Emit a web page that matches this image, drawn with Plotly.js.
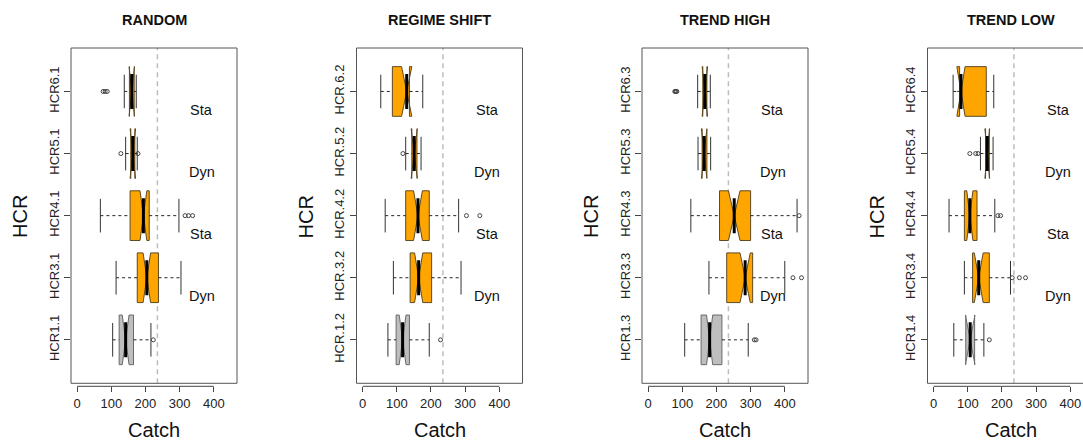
<!DOCTYPE html>
<html><head><meta charset="utf-8">
<script src="https://cdn.plot.ly/plotly-3.0.1.min.js"></script>
<style>html,body{margin:0;padding:0;overflow:hidden;background:#fff}</style>
</head><body><div id="chart"></div>
<script>
// ---- data ----
const positions = [1, 2, 3, 4, 5];
const panelTitles = ['RANDOM', 'REGIME SHIFT', 'TREND HIGH', 'TREND LOW'];
const xTicks = [0, 100, 200, 300, 400];
const xLimits = [-18, 468];
const refCatch = 235;
const noteText = ['Sta', 'Dyn', 'Sta', 'Dyn'];
const noteY = [4.7, 3.7, 2.7, 1.7];
const noteX = 365;

// RANDOM
const labelsRandom = ['HCR1.1', 'HCR3.1', 'HCR4.1', 'HCR5.1', 'HCR6.1'];
const lowRandom = [104, 114, 68, 142, 138];
const q1Random = [123, 176, 155, 157, 153];
const medRandom = [142, 204, 194, 163, 160];
const q3Random = [165, 238, 211, 169, 167];
const highRandom = [216, 304, 298, 176, 173];
const notchRandom = [10, 11, 10, 8, 8];
const outXRandom = [223, 316, 326, 338, 128, 178, 76, 82, 88];
const outYRandom = [1, 3, 3, 3, 4, 4, 5, 5, 5];

// REGIME SHIFT
const labelsRegime = ['HCR.1.2', 'HCR.3.2', 'HCR.4.2', 'HCR.5.2', 'HCR.6.2'];
const lowRegime = [74, 90, 66, 126, 53];
const q1Regime = [98, 139, 126, 144, 87];
const medRegime = [117, 164, 162, 151, 129];
const q3Regime = [137, 202, 195, 159, 137];
const highRegime = [195, 288, 281, 171, 176];
const notchRegime = [10, 12, 13, 9, 15];
const outXRegime = [228, 304, 343, 118];
const outYRegime = [1, 3, 3, 4];

// TREND HIGH
const labelsHigh = ['HCR1.3', 'HCR3.3', 'HCR4.3', 'HCR5.3', 'HCR6.3'];
const lowHigh = [107, 178, 125, 146, 145];
const q1High = [155, 230, 209, 158, 160];
const medHigh = [180, 284, 252, 164, 166];
const q3High = [216, 306, 300, 172, 172];
const highHigh = [293, 400, 436, 183, 182];
const notchHigh = [9, 15, 17, 8, 8];
const outXHigh = [311, 316, 424, 449, 442, 78, 80, 82, 84];
const outYHigh = [1, 1, 2, 2, 3, 5, 5, 5, 5];

// TREND LOW
const labelsLow = ['HCR1.4', 'HCR3.4', 'HCR4.4', 'HCR5.4', 'HCR6.4'];
const lowLow = [59, 90, 45, 137, 57];
const q1Low = [94, 114, 90, 152, 76];
const medLow = [107, 132, 106, 157, 80];
const q3Low = [120, 163, 127, 163, 154];
const highLow = [147, 225, 179, 174, 176];
const notchLow = [14, 13, 9, 7, 12];
const outXLow = [163, 230, 251, 269, 188, 196, 106, 123, 130];
const outYLow = [1, 2, 2, 2, 3, 3, 4, 4, 4];

const panels = [
  {labels: labelsRandom, low: lowRandom, q1: q1Random, med: medRandom, q3: q3Random, high: highRandom, notch: notchRandom, ox: outXRandom, oy: outYRandom},
  {labels: labelsRegime, low: lowRegime, q1: q1Regime, med: medRegime, q3: q3Regime, high: highRegime, notch: notchRegime, ox: outXRegime, oy: outYRegime},
  {labels: labelsHigh, low: lowHigh, q1: q1High, med: medHigh, q3: q3High, high: highHigh, notch: notchHigh, ox: outXHigh, oy: outYHigh},
  {labels: labelsLow, low: lowLow, q1: q1Low, med: medLow, q3: q3Low, high: highLow, notch: notchLow, ox: outXLow, oy: outYLow}
];

// ---- layout geometry ----
const W = 1100, H = 441;
const FONT = 'Liberation Sans, Arial, sans-serif';
const frameTop = 48, frameBottom = 383.3, frameW = 166;
const yDom = [1 - frameBottom / H, 1 - frameTop / H];
const xAxisPos = yDom[0] - 3 / H;

const traces = [];
const layout = {
  width: W, height: H,
  margin: {l: 0, r: 0, t: 0, b: 0},
  paper_bgcolor: '#fff', plot_bgcolor: '#fff',
  showlegend: false, boxmode: 'overlay',
  font: {family: FONT, color: '#222'},
  shapes: [], annotations: []
};

panels.forEach((p, k) => {
  const n = k + 1;
  const xa = n === 1 ? 'x' : 'x' + n;
  const ya = n === 1 ? 'y' : 'y' + n;
  const left = 71 + k * 285.5;
  layout['xaxis' + (n === 1 ? '' : n)] = {
    domain: [left / W, (left + frameW) / W],
    range: xLimits, anchor: 'free', position: xAxisPos,
    tickvals: xTicks, ticktext: xTicks.map(String),
    ticks: 'outside', ticklen: 5, tickcolor: '#444', tickwidth: 1,
    showline: false, showgrid: false, zeroline: false,
    tickfont: {size: 13, color: '#222', family: FONT}, fixedrange: true
  };
  layout['yaxis' + (n === 1 ? '' : n)] = {
    domain: yDom, range: [0.3, 5.7], anchor: xa,
    tickvals: positions, ticktext: p.labels, tickangle: -90,
    ticks: 'outside', ticklen: 6, tickcolor: '#444', tickwidth: 1,
    showline: false, showgrid: false, zeroline: false,
    tickfont: {size: 13, color: '#222', family: FONT}, fixedrange: true
  };

  // whiskers (dashed)
  const wx = [], wy = [];
  positions.forEach((pos, i) => {
    wx.push(p.low[i], p.q1[i], null, p.q3[i], p.high[i], null);
    wy.push(pos, pos, null, pos, pos, null);
  });
  traces.push({type: 'scatter', mode: 'lines', x: wx, y: wy, xaxis: xa, yaxis: ya,
    line: {color: '#222', width: 1, dash: '3px,3px'}, hoverinfo: 'skip'});

  // boxes
  const boxBase = {type: 'box', orientation: 'h', xaxis: xa, yaxis: ya, notched: true,
    notchwidth: 0.5, width: 0.8, whiskerwidth: 0, boxpoints: false, hoverinfo: 'skip'};
  traces.push(Object.assign({}, boxBase, {
    y: positions.slice(0, 1), q1: p.q1.slice(0, 1), median: p.med.slice(0, 1), q3: p.q3.slice(0, 1),
    lowerfence: p.q1.slice(0, 1), upperfence: p.q3.slice(0, 1), notchspan: p.notch.slice(0, 1),
    fillcolor: '#BEBEBE', line: {color: '#6a6a6a', width: 1}
  }));
  traces.push(Object.assign({}, boxBase, {
    y: positions.slice(1), q1: p.q1.slice(1), median: p.med.slice(1), q3: p.q3.slice(1),
    lowerfence: p.q1.slice(1), upperfence: p.q3.slice(1), notchspan: p.notch.slice(1),
    fillcolor: '#FFA500', line: {color: '#5e4a22', width: 1}
  }));

  // whisker caps
  traces.push({type: 'scatter', mode: 'markers', x: p.low.concat(p.high), y: positions.concat(positions),
    xaxis: xa, yaxis: ya, hoverinfo: 'skip',
    marker: {symbol: 'line-ns', size: 24, color: '#333', line: {width: 1, color: '#333'}}});
  // medians
  traces.push({type: 'scatter', mode: 'markers', x: p.med, y: positions,
    xaxis: xa, yaxis: ya, hoverinfo: 'skip',
    marker: {symbol: 'line-ns', size: 25, color: '#000', line: {width: 3, color: '#000'}}});
  // outliers
  traces.push({type: 'scatter', mode: 'markers', x: p.ox, y: p.oy,
    xaxis: xa, yaxis: ya, hoverinfo: 'skip',
    marker: {symbol: 'circle-open', size: 4, color: '#444', line: {width: 1, color: '#444'}}});

  // frame
  layout.shapes.push({type: 'rect', xref: xa + ' domain', yref: ya + ' domain', x0: 0, x1: 1, y0: 0, y1: 1,
    line: {color: '#555', width: 1}, layer: 'above'});
  // axis line between first and last tick
  layout.shapes.push({type: 'line', xref: xa, yref: 'paper', x0: xTicks[0], x1: xTicks[xTicks.length - 1],
    y0: xAxisPos, y1: xAxisPos, line: {color: '#444', width: 1}});
  // reference line
  layout.shapes.push({type: 'line', xref: xa, yref: ya + ' domain', x0: refCatch, x1: refCatch, y0: 0, y1: 1,
    line: {color: '#bdbdbd', width: 1.5, dash: '5px,4px'}, layer: 'below'});

  // title
  layout.annotations.push({text: '<b>' + panelTitles[k] + '</b>', xref: xa + ' domain', x: 0.5,
    yref: 'paper', y: 1 - 20 / H, yanchor: 'middle', showarrow: false, font: {size: 14.5, color: '#111', family: FONT}});
  // axis titles
  layout.annotations.push({text: 'HCR', xref: xa + ' domain', x: (20 - 71) / frameW, yref: ya + ' domain', y: 0.496,
    textangle: -90, showarrow: false, xanchor: 'center', yanchor: 'middle', font: {size: 20, color: '#111', family: FONT}});
  layout.annotations.push({text: 'Catch', xref: xa + ' domain', x: 0.5, yref: 'paper', y: 1 - 430 / H,
    yanchor: 'middle', showarrow: false, font: {size: 20, color: '#111', family: FONT}});
  // Sta / Dyn notes
  noteText.forEach((t, i) => {
    layout.annotations.push({text: t, xref: xa, yref: ya, x: noteX, y: noteY[i], showarrow: false,
      xanchor: 'center', yanchor: 'middle', font: {size: 14.5, color: '#111', family: FONT}});
  });
});

Plotly.newPlot('chart', traces, layout, {staticPlot: true, displayModeBar: false});
</script>
</body></html>
